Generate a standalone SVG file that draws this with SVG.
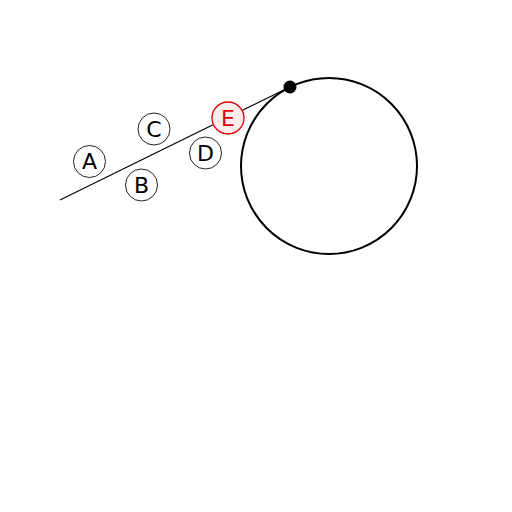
<svg xmlns="http://www.w3.org/2000/svg" width="512" height="512" viewBox="0 0 512 512">
<style>
.lbl{fill:#fff;stroke:#222;stroke-width:1}
.t{font-family:"DejaVu Sans",sans-serif;font-size:22px;text-anchor:middle;dominant-baseline:central;fill:#000}
</style>
<rect width="512" height="512" fill="#fff"/>
<g id="big-circle">
<circle cx="329" cy="166" r="88" fill="none" stroke="#000" stroke-width="2"/>
</g>
<g id="connectors">
<line x1="60" y1="200" x2="290" y2="87" stroke="#000" stroke-width="1.2"/>
</g>
<g id="point"><circle cx="290" cy="87" r="6.5" fill="#000"/></g>
<g id="A"><circle class="lbl" cx="89.5" cy="161.5" r="16"/><text class="t" x="89.5" y="161.5">A</text></g>
<g id="B"><circle class="lbl" cx="141.5" cy="185" r="16"/><text class="t" x="141.5" y="185">B</text></g>
<g id="C"><circle class="lbl" cx="154" cy="129" r="16"/><text class="t" x="154" y="129">C</text></g>
<g id="D"><circle class="lbl" cx="205.5" cy="153" r="16"/><text class="t" x="205.5" y="153">D</text></g>
<g id="E"><circle cx="228" cy="118" r="16" fill="#fdecec" stroke="#e00000" stroke-width="1.3"/><text class="t" x="228" y="118" style="fill:#e00000">E</text></g>
</svg>
